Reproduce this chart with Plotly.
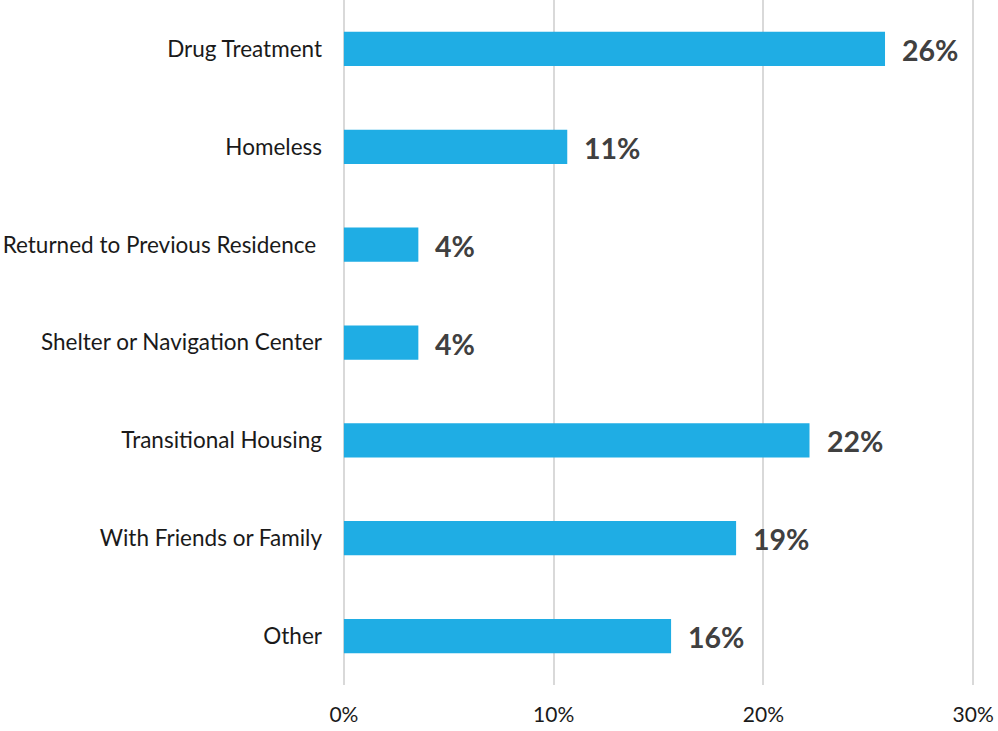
import plotly.graph_objects as go

categories = [
    "Drug Treatment",
    "Homeless",
    "Returned to Previous Residence\u00a0",
    "Shelter or Navigation Center",
    "Transitional Housing",
    "With Friends or Family",
    "Other",
]
values = [25.8, 10.65, 3.55, 3.55, 22.2, 18.7, 15.6]
labels = ["26%", "11%", "4%", "4%", "22%", "19%", "16%"]
tick_vals = [0, 10, 20, 30]
tick_text = ["0%", "10%", "20%", "30%"]

FONT = "Lato"
BAR = "#1FADE4"

fig = go.Figure()
fig.add_trace(go.Bar(
    x=values,
    y=categories,
    orientation="h",
    marker=dict(color=BAR, line=dict(width=0)),
    hoverinfo="skip",
))

for v, c, t in zip(values, categories, labels):
    fig.add_annotation(
        x=v, y=c, text=t, showarrow=False,
        xanchor="left", yanchor="middle", xshift=15, yshift=-1,
        font=dict(family=FONT, size=28.5, color="#404040", weight="bold"),
    )

fig.update_layout(
    width=998, height=731,
    margin=dict(l=342, r=23, t=0, b=46),
    paper_bgcolor="white",
    plot_bgcolor="white",
    showlegend=False,
    bargap=0.65,
    font=dict(family=FONT, size=22.5, color="#1a1a1a"),
)
fig.update_xaxes(
    range=[-0.09, 30.09],
    tickvals=tick_vals,
    ticktext=tick_text,
    showgrid=True,
    gridcolor="#D9D9D9",
    gridwidth=2,
    zeroline=False,
    showline=False,
    ticks="",
    ticklabelstandoff=15,
    tickfont=dict(family=FONT, size=21, color="#1a1a1a"),
    fixedrange=True,
)
fig.update_yaxes(
    categoryorder="array",
    categoryarray=categories,
    autorange="reversed",
    showgrid=False,
    zeroline=False,
    showline=False,
    ticks="",
    ticklabelstandoff=19,
    tickfont=dict(family=FONT, size=22.5, color="#1a1a1a"),
    fixedrange=True,
)

fig.write_html(
    "out.html",
    config={"displayModeBar": False},
    post_script="document.body.style.margin='0px';document.body.style.padding='0px';",
)
